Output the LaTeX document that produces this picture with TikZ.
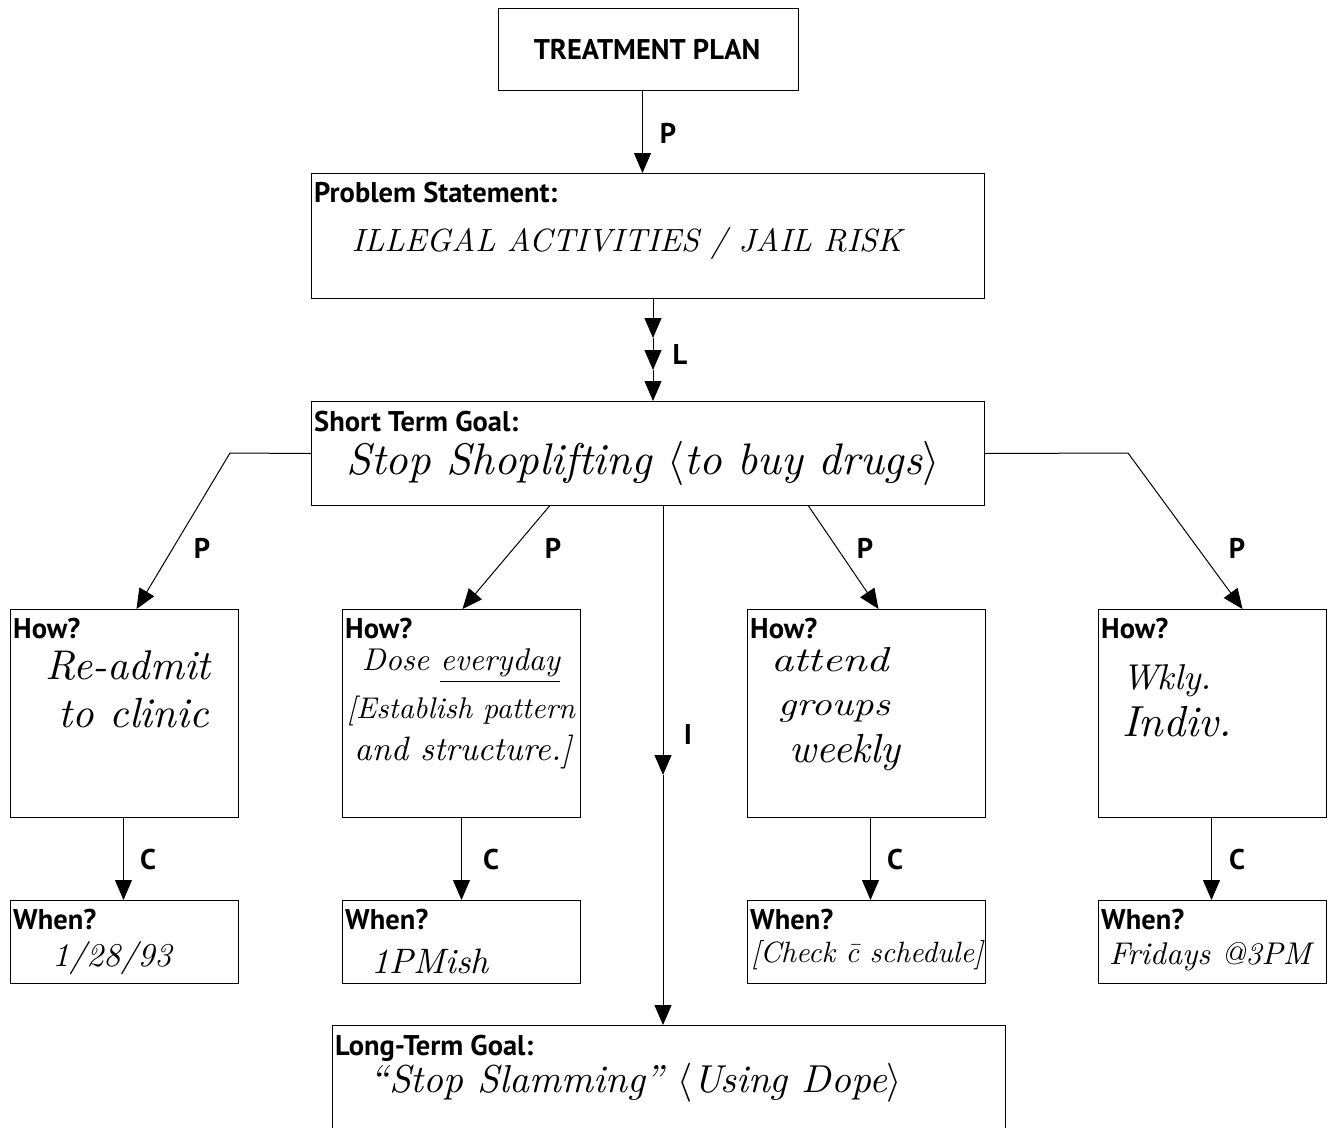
\documentclass[tikz,border=0pt]{standalone}
\usepackage{fontspec}
\usepackage{graphicx}
\usetikzlibrary{arrows.meta}
\newfontfamily\labfont{PT Sans}
% pen-written entries, scaled to a given width (or width and height)
\newcommand{\hw}[2]{\resizebox{#1}{!}{\itshape #2}}
\newcommand{\hwh}[3]{\resizebox{#1}{#2}{\itshape #3}}
\tikzset{
  box/.style={draw, line width=1pt, anchor=north west, inner sep=0pt},
  head/.style={font=\labfont\bfseries\fontsize{28.5}{30}\selectfont, inner sep=0pt, anchor=base west},
  tag/.style={font=\labfont\bfseries\fontsize{28.5}{30}\selectfont, inner sep=0pt},
  pen/.style={inner sep=0pt},
  arr/.style={line width=1pt, -{Triangle[length=20pt,width=17pt]}}
}
\begin{document}
\begin{tikzpicture}[x=1pt,y=-1pt]
\useasboundingbox (0,0) rectangle (1333,1127);
\clip (0,0) rectangle (1333,1127);
\fill[white] (0,0) rectangle (1333,1127);

% boxes
\node[box, minimum width=300pt, minimum height=82pt] (tp) at (498,8) {};
\node[box, minimum width=673pt, minimum height=125pt] (ps) at (311,173) {};
\node[box, minimum width=673pt, minimum height=104pt] (stg) at (311,401) {};
\node[box, minimum width=228pt, minimum height=208pt] (how1) at (10,609) {};
\node[box, minimum width=238pt, minimum height=208pt] (how2) at (342,609) {};
\node[box, minimum width=238pt, minimum height=208pt] (how3) at (747,609) {};
\node[box, minimum width=228pt, minimum height=208pt] (how4) at (1098,609) {};
\node[box, minimum width=228pt, minimum height=83pt] (when1) at (10,900) {};
\node[box, minimum width=238pt, minimum height=83pt] (when2) at (342,900) {};
\node[box, minimum width=238pt, minimum height=83pt] (when3) at (747,900) {};
\node[box, minimum width=228pt, minimum height=83pt] (when4) at (1098,900) {};
\node[box, minimum width=673pt, minimum height=140pt] (ltg) at (332,1025) {};

% printed headings
\node[head, anchor=base] (tpt) at (647,59) {TREATMENT PLAN};
\node[head] (pst) at (314,202) {Problem Statement:};
\node[head] (stgt) at (314,431) {Short Term Goal:};
\node[head] (h1t) at (13,638) {How?};
\node[head] (h2t) at (345,638) {How?};
\node[head] (h3t) at (750,638) {How?};
\node[head] (h4t) at (1101,638) {How?};
\node[head] (w1t) at (13,929) {When?};
\node[head] (w2t) at (345,929) {When?};
\node[head] (w3t) at (750,929) {When?};
\node[head] (w4t) at (1101,929) {When?};
\node[head] (ltgt) at (335,1055) {Long-Term Goal:};

% pen entries
\node[pen] (psh) at (627,243) {\hw{550pt}{ILLEGAL ACTIVITIES / JAIL RISK}};
\node[pen] (stgh) at (643,463) {\hw{593pt}{Stop Shoplifting $\langle$to buy drugs$\rangle$}};
\node[pen] (h1a) at (128,666) {\hw{165pt}{Re-admit}};
\node[pen] (h1b) at (134,713) {\hw{150pt}{to clinic}};
\node[pen] (h2a) at (461,666) {\hw{198pt}{Dose \underline{everyday}}};
\node[pen] (h2b) at (461,711) {\hw{228pt}{[Establish pattern}};
\node[pen] (h2c) at (463,752) {\hw{217pt}{and structure.]}};
\node[pen] (h3a) at (830,660) {\hwh{118pt}{24pt}{attend}};
\node[pen] (h3b) at (834,711) {\hwh{112pt}{15pt}{groups}};
\node[pen] (h3c) at (845,753) {\hw{111pt}{weekly}};
\node[pen] (h4a) at (1167,681) {\hw{90pt}{Wkly.}};
\node[pen] (h4b) at (1177,722) {\hw{110pt}{Indiv.}};
\node[pen] (w1h) at (112,958) {\hw{119pt}{1/28/93}};
\node[pen] (w2h) at (430,961) {\hw{117pt}{1PMish}};
\node[pen] (w3h) at (867,955) {\hw{232pt}{[Check \=c schedule]}};
\node[pen] (w4h) at (1210,957) {\hw{202pt}{Fridays @3PM}};
\node[pen] (ltgh) at (636,1083) {\hw{532pt}{``Stop Slamming'' $\langle$Using Dope$\rangle$}};

% connectors
\draw[arr] ([xshift=-6pt]tp.south) -- ([xshift=-6pt]tp.south |- ps.north);

\coordinate (l1) at (653,338);
\coordinate (l2) at (653,370);
\draw[arr] (ps.south -| l1) -- (l1);
\draw[arr] (l1) -- (l2);
\draw[arr] (l2) -- (stg.north -| l2);

\coordinate (kl) at (230,453);
\coordinate (kr) at (1128,453);
\draw[arr] (stg.west) -- (kl) -- ([xshift=12pt]how1.north);
\draw[arr] ([xshift=-98.5pt]stg.south) -- ([xshift=1pt]how2.north);
\draw[arr] ([xshift=160.5pt]stg.south) -- ([xshift=12pt]how3.north);
\draw[arr] (stg.east) -- (kr) -- ([xshift=30pt]how4.north);

\coordinate (im) at (663,775);
\draw[arr] (stg.south -| im) -- (im);
\draw[arr] (im) -- (ltg.north -| im);

\draw[arr] ([xshift=-1pt]how1.south) -- ([xshift=-1pt]when1.north);
\draw[arr] (how2.south) -- (when2.north);
\draw[arr] ([xshift=4pt]how3.south) -- ([xshift=4pt]when3.north);
\draw[arr] ([xshift=-1pt]how4.south) -- ([xshift=-1pt]when4.north);

% connector letters
\node[tag] (tP0) at (668,133) {P};
\node[tag] (tL) at (680,355) {L};
\node[tag] (tP1) at (202,548) {P};
\node[tag] (tP2) at (553,548) {P};
\node[tag] (tP3) at (865,548) {P};
\node[tag] (tP4) at (1237,548) {P};
\node[tag] (tI) at (688,735) {I};
\node[tag] (tC1) at (148,860) {C};
\node[tag] (tC2) at (491,860) {C};
\node[tag] (tC3) at (895,860) {C};
\node[tag] (tC4) at (1237,860) {C};
\end{tikzpicture}
\end{document}
